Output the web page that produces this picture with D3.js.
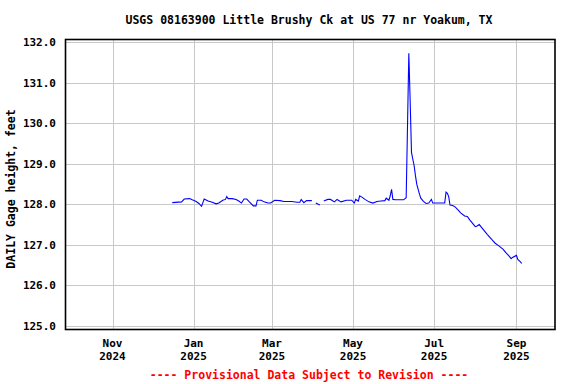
<!DOCTYPE html>
<html>
<head>
<meta charset="utf-8">
<script src="https://cdn.jsdelivr.net/npm/d3@7"></script>
<style>
  body { margin: 0; background: #fff; }
  text { font-family: "DejaVu Sans Mono", monospace; font-weight: bold; }
</style>
</head>
<body>
<div id="chart"></div>
<script>
// Daily gage height readings (feet), null = missing day
var dates = [
  "2024-12-16","2024-12-23","2024-12-25","2024-12-29","2024-12-31","2025-01-03","2025-01-05","2025-01-07",
  "2025-01-09","2025-01-12","2025-01-15","2025-01-18","2025-01-20","2025-01-23","2025-01-25","2025-01-26",
  "2025-01-27","2025-01-30","2025-02-02","2025-02-04","2025-02-06","2025-02-08","2025-02-10","2025-02-12",
  "2025-02-15","2025-02-17","2025-02-18","2025-02-21","2025-02-23","2025-02-26","2025-02-28","2025-03-03",
  "2025-03-07","2025-03-10","2025-03-16","2025-03-20","2025-03-22","2025-03-23","2025-03-25","2025-03-27",
  "2025-03-31","2025-04-01","2025-04-03","2025-04-06","2025-04-07","2025-04-09","2025-04-12","2025-04-14",
  "2025-04-17","2025-04-19","2025-04-22","2025-04-26","2025-04-30","2025-05-02","2025-05-03","2025-05-05",
  "2025-05-06","2025-05-08","2025-05-10","2025-05-13","2025-05-16","2025-05-19","2025-05-22","2025-05-25",
  "2025-05-26","2025-05-28","2025-05-29","2025-05-30","2025-05-31","2025-06-02","2025-06-08","2025-06-10",
  "2025-06-11","2025-06-12","2025-06-13","2025-06-14","2025-06-15","2025-06-16","2025-06-17","2025-06-18",
  "2025-06-20","2025-06-21","2025-06-23","2025-06-25","2025-06-27","2025-06-29","2025-06-30","2025-07-01",
  "2025-07-05","2025-07-09","2025-07-10","2025-07-11","2025-07-12","2025-07-13","2025-07-15","2025-07-17",
  "2025-07-19","2025-07-21","2025-07-24","2025-07-26","2025-07-28","2025-07-30","2025-08-01","2025-08-02",
  "2025-08-04","2025-08-06","2025-08-08","2025-08-10","2025-08-13","2025-08-14","2025-08-16","2025-08-19",
  "2025-08-22","2025-08-24","2025-08-26","2025-08-28","2025-08-29","2025-09-01","2025-09-02","2025-09-04",
  "2025-09-05"
];
var gageHeight = [
  128.04,128.06,128.13,128.14,128.11,128.07,128.02,127.95,
  128.13,128.08,128.05,128.01,128.03,128.10,128.12,128.19,
  128.14,128.14,128.12,128.08,128.03,128.13,128.13,128.06,
  127.96,127.96,128.10,128.10,128.06,128.03,128.03,128.10,
  128.09,128.07,128.07,128.05,128.05,128.12,128.04,128.09,
  128.09,null,128.03,127.98,null,128.08,128.12,128.12,
  128.06,128.12,128.06,128.10,128.10,128.03,128.12,128.08,
  128.21,128.17,128.12,128.06,128.03,128.07,128.08,128.09,
  128.15,128.10,128.21,128.37,128.12,128.11,128.11,128.16,
  129.92,131.72,130.54,129.28,129.11,128.95,128.70,128.49,
  128.25,128.15,128.07,128.02,128.03,128.12,128.03,128.03,
  128.03,128.03,128.30,128.27,128.19,127.98,127.97,127.93,
  127.86,127.79,127.71,127.70,127.61,127.53,127.45,127.46,
  127.50,127.42,127.34,127.26,127.15,127.11,127.04,126.97,
  126.89,126.81,126.74,126.66,126.69,126.74,126.64,126.58,
  126.54
];
var yTicks = [125, 126, 127, 128, 129, 130, 131, 132];
var xTickDates = ["2024-11-01","2025-01-01","2025-03-01","2025-05-01","2025-07-01","2025-09-01"];
var xDomain = ["2024-09-27","2025-09-30"];

var svgWidth = 576;
var svgHeight = 384;

var parseDate = d3.timeParse("%Y-%m-%d");
var data = dates.map((d, i) => ({ date: parseDate(d), value: gageHeight[i] }));

var svg = d3.select("#chart")
    .append("svg")
    .attr("width", svgWidth)
    .attr("height", svgHeight);

var xScale = d3.scaleTime()
    .domain(xDomain.map(parseDate))
    .range([66, 555]);

var yScale = d3.scaleLinear()
    .domain([125, 132])
    .range([326, 42]);

// lineas de la cuadricula
svg.append("g")
    .selectAll("line")
    .data(yTicks)
    .enter()
    .append("line")
    .attr("x1", 66)
    .attr("x2", 555)
    .attr("y1", d => Math.round(yScale(d)) + 0.5)
    .attr("y2", d => Math.round(yScale(d)) + 0.5)
    .attr("stroke", "#c8c8c8")
    .attr("stroke-width", 1);

svg.append("g")
    .selectAll("line")
    .data(xTickDates)
    .enter()
    .append("line")
    .attr("x1", d => Math.round(xScale(parseDate(d))) + 0.5)
    .attr("x2", d => Math.round(xScale(parseDate(d))) + 0.5)
    .attr("y1", 40)
    .attr("y2", 329)
    .attr("stroke", "#c8c8c8")
    .attr("stroke-width", 1);

// serie
var line = d3.line()
    .defined(d => d.value !== null)
    .x(d => xScale(d.date))
    .y(d => yScale(d.value));

svg.append("path")
    .datum(data)
    .attr("d", line)
    .attr("fill", "none")
    .attr("stroke", "#0000ff")
    .attr("stroke-width", 1.1);

// marco
svg.append("rect")
    .attr("x", 65.5)
    .attr("y", 39.5)
    .attr("width", 489.5)
    .attr("height", 290)
    .attr("fill", "none")
    .attr("stroke", "#000")
    .attr("stroke-width", 1.6);

// etiquetas eje y
svg.append("g")
    .selectAll("text")
    .data(yTicks)
    .enter()
    .append("text")
    .attr("x", 56)
    .attr("y", d => yScale(d) + 4)
    .attr("text-anchor", "end")
    .style("font-size", "11px")
    .text(d => d.toFixed(1));

// etiquetas eje x
var monthFmt = d3.timeFormat("%b");
var yearFmt = d3.timeFormat("%Y");
var xLabels = svg.append("g")
    .selectAll("text")
    .data(xTickDates)
    .enter()
    .append("text")
    .attr("text-anchor", "middle")
    .style("font-size", "11px");

xLabels.append("tspan")
    .attr("x", d => xScale(parseDate(d)))
    .attr("y", 347)
    .text(d => monthFmt(parseDate(d)));

xLabels.append("tspan")
    .attr("x", d => xScale(parseDate(d)))
    .attr("y", 360)
    .text(d => yearFmt(parseDate(d)));

// titulo
svg.append("text")
    .attr("x", 309)
    .attr("y", 23.5)
    .attr("text-anchor", "middle")
    .style("font-size", "11.5px")
    .text("USGS 08163900 Little Brushy Ck at US 77 nr Yoakum, TX");

// titulo eje y
svg.append("text")
    .attr("transform", "translate(15, 189) rotate(-90)")
    .attr("text-anchor", "middle")
    .style("font-size", "11.5px")
    .text("DAILY Gage height, feet");

// aviso
svg.append("text")
    .attr("x", 309)
    .attr("y", 378.5)
    .attr("text-anchor", "middle")
    .attr("fill", "#ff0000")
    .style("font-size", "11.5px")
    .text("---- Provisional Data Subject to Revision ----");
</script>
</body>
</html>
